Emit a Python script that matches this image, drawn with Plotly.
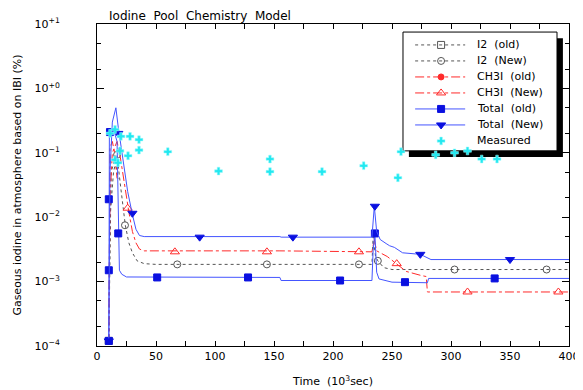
import plotly.graph_objects as go

# ---------------- data ----------------
# I2 (old)
i2o_t = [10, 12, 15, 18]
i2o_y = [1.1e-4, 0.05, 0.08, 0.04]
i2o_mt = [10]
i2o_my = [1.2e-4]

# I2 (New)
i2n_t = [10, 11, 14, 17, 20, 24, 27, 30, 34, 40, 50, 233, 234, 236, 238, 243, 250, 400]
i2n_y = [1.1e-4, 0.01, 0.05, 0.09, 0.03, 0.0075, 0.004, 0.0028, 0.0021, 0.0019, 0.00185,
         0.00185, 0.005, 0.0025, 0.0021, 0.00165, 0.00154, 0.00154]
i2n_mt = [17, 23.7, 68, 144, 222, 238, 303, 381]
i2n_my = [0.093, 0.0075, 0.00185, 0.00185, 0.00185, 0.0021, 0.00154, 0.00154]

# CH3I (old)
ch3o_t = [10, 11, 13, 15, 17]
ch3o_y = [1.1e-4, 0.12, 0.15, 0.1, 0.04]
ch3o_mt = [10]
ch3o_my = [1.2e-4]

# CH3I (New)
ch3n_t = [10, 11, 13, 17, 20, 24, 27, 30, 33, 36, 40, 155, 233, 235, 237, 246, 254, 262, 275, 279, 280, 400]
ch3n_y = [1.1e-4, 0.02, 0.1, 0.15, 0.08, 0.025, 0.012, 0.006, 0.004, 0.0032, 0.0030, 0.0030,
          0.0029, 0.0045, 0.003, 0.00245, 0.0019, 0.00144, 0.00124, 0.0012, 0.00069, 0.00069]
ch3n_mt = [26, 66, 144, 222, 254, 314, 391]
ch3n_my = [0.0138, 0.0029, 0.0029, 0.0029, 0.0019, 0.00069, 0.00069]

# Total (old)
toto_t = [10, 10.5, 12, 15, 17, 18, 19, 21, 25, 155, 156, 233, 234, 235.5, 237, 239, 250, 280, 281, 400]
toto_y = [1.1e-4, 0.2, 0.22, 0.2, 0.15, 0.02, 0.0015, 0.0013, 0.00118, 0.00116, 0.00104,
          0.00104, 0.003, 0.0056, 0.0014, 0.0011, 0.00098, 0.00096, 0.00112, 0.00112]
toto_mt = [10, 10, 10, 11, 18, 51, 128, 206, 235.5, 261, 337]
toto_my = [1.2e-4, 0.0015, 0.019, 0.21, 0.0056, 0.00116, 0.00116, 0.00104, 0.0056, 0.00098, 0.00112]

# Total (New)
totn_t = [10, 11, 13, 16, 18, 22, 26, 30, 33, 36, 40, 155, 156, 233, 235, 237, 240, 245,
          248, 252, 259, 274, 282, 283, 400]
totn_y = [1.1e-4, 0.05, 0.3, 0.5, 0.25, 0.08, 0.025, 0.011, 0.0065, 0.0052, 0.0050, 0.0050,
          0.0049, 0.0049, 0.0148, 0.006, 0.0045, 0.0039, 0.0036, 0.0034, 0.0028, 0.00265,
          0.0022, 0.0022, 0.0022]
totn_mt = [10, 18, 30, 87, 166, 235.5, 274, 350]
totn_my = [1.2e-4, 0.2, 0.0115, 0.0049, 0.0049, 0.0148, 0.00265, 0.0022]

# Measured
meas_t = [11, 15.3, 20.3, 28, 35.6, 35.6, 26.3, 19.5, 15.3, 17.8, 60, 103, 146.6, 146.6,
          190.7, 226, 255, 257.6, 287, 303, 314, 326, 339]
meas_y = [0.20, 0.23, 0.18, 0.18, 0.16, 0.11, 0.09, 0.107, 0.078, 0.07, 0.104, 0.052, 0.08,
          0.051, 0.051, 0.063, 0.041, 0.104, 0.093, 0.10, 0.107, 0.08, 0.08]

series_names = ["I2  (old)", "I2  (New)", "CH3I  (old)", "CH3I  (New)",
                "Total  (old)", "Total  (New)"]
measured_name = "Measured"

y_ticks = [1e-4, 1e-3, 1e-2, 1e-1, 1, 10]
y_ticktext = ["10<sup>−4</sup>", "10<sup>−3</sup>", "10<sup>−2</sup>", "10<sup>−1</sup>",
              "10<sup>+0</sup>", "10<sup>+1</sup>"]

FONT = "DejaVu Sans"
BLUE_LINE = "#4455FF"
BLUE_MK = "#0A10E0"
RED = "#FF2A2A"
GREY = "#555555"
CYAN = "#22E8F0"

styles = [
    (GREY, "dot", "square-open", GREY, 7),
    (GREY, "dot", "circle-open", GREY, 7),
    (RED, "dashdot", "circle", RED, 6),
    (RED, "dashdot", "triangle-up-open", RED, 8),
    (BLUE_LINE, "solid", "square", BLUE_MK, 7),
    (BLUE_LINE, "solid", "triangle-down", BLUE_MK, 8),
]
data = [
    (i2o_t, i2o_y, i2o_mt, i2o_my),
    (i2n_t, i2n_y, i2n_mt, i2n_my),
    (ch3o_t, ch3o_y, ch3o_mt, ch3o_my),
    (ch3n_t, ch3n_y, ch3n_mt, ch3n_my),
    (toto_t, toto_y, toto_mt, toto_my),
    (totn_t, totn_y, totn_mt, totn_my),
]

fig = go.Figure()
for (t, y, mt, my), (lc, dash, sym, mc, ms), name in zip(data, styles, series_names):
    fig.add_trace(go.Scatter(x=t, y=y, mode="lines", name=name, showlegend=False,
                             line=dict(color=lc, width=1, dash=dash)))
    fig.add_trace(go.Scatter(x=mt, y=my, mode="markers", name=name, showlegend=False,
                             marker=dict(symbol=sym, color=mc, size=ms,
                                         line=dict(color=mc, width=1))))

fig.add_trace(go.Scatter(x=meas_t, y=meas_y, mode="markers", name=measured_name,
                         showlegend=False,
                         marker=dict(symbol="cross", color=CYAN, size=6.5,
                                     line=dict(color="#9FFAFC", width=0.5))))

# ---- hand-drawn legend (IDL style box with drop shadow) ----
# layout in paper fractions of the plot area
leg_x0, leg_x1, leg_top, leg_bot = 0.6483, 0.9746, 0.975, 0.606
sh_dx, sh_dy = 0.0125, 0.019
row_top, row_step = 0.935, 0.0497
line_x0, line_x1, mark_x, text_x = 0.674, 0.780, 0.729, 0.801

shapes = [
    dict(type="rect", xref="paper", yref="paper", layer="below",
         x0=leg_x0 + sh_dx, x1=leg_x1 + sh_dx, y0=leg_bot - sh_dy, y1=leg_top - sh_dy,
         fillcolor="black", line=dict(width=0)),
    dict(type="rect", xref="paper", yref="paper", layer="below",
         x0=leg_x0, x1=leg_x1, y0=leg_bot, y1=leg_top,
         fillcolor="white", line=dict(color="black", width=1)),
]
annotations = [dict(text="Iodine  Pool  Chemistry  Model", xref="paper", yref="paper",
                    x=0.021, y=1.024, xanchor="left", yanchor="middle", showarrow=False,
                    font=dict(family=FONT, size=12))]

all_names = series_names + [measured_name]
for i, name in enumerate(all_names):
    ry = row_top - i * row_step
    annotations.append(dict(text=name, xref="paper", yref="paper", x=text_x, y=ry,
                            xanchor="left", yanchor="middle", showarrow=False,
                            font=dict(family=FONT, size=11)))
    if i < len(styles):
        lc, dash, sym, mc, ms = styles[i]
        fig.add_trace(go.Scatter(x=[line_x0, line_x1], y=[ry, ry], mode="lines",
                                 xaxis="x2", yaxis="y2", showlegend=False, hoverinfo="skip",
                                 line=dict(color=lc, width=1, dash=dash)))
        fig.add_trace(go.Scatter(x=[mark_x], y=[ry], mode="markers",
                                 xaxis="x2", yaxis="y2", showlegend=False, hoverinfo="skip",
                                 marker=dict(symbol=sym, color=mc, size=ms,
                                             line=dict(color=mc, width=1))))
    else:
        fig.add_trace(go.Scatter(x=[mark_x], y=[ry], mode="markers",
                                 xaxis="x2", yaxis="y2", showlegend=False, hoverinfo="skip",
                                 marker=dict(symbol="cross", color=CYAN, size=6.5,
                                             line=dict(color="#9FFAFC", width=0.5))))

fig.update_layout(
    width=575, height=382,
    margin=dict(l=89, r=14, t=16, b=44, autoexpand=False),
    paper_bgcolor="white", plot_bgcolor="white",
    font=dict(family=FONT, size=11, color="black"),
    showlegend=False,
    shapes=shapes,
    annotations=annotations,
    xaxis2=dict(overlaying="x", anchor="y2", range=[0, 1], visible=False, fixedrange=True),
    yaxis2=dict(overlaying="y", anchor="x2", range=[0, 1], visible=False, fixedrange=True),
)

fig.update_layout(xaxis=dict(
    range=[0, 400], dtick=50, tick0=0, ticks="inside", ticklen=5,
    tickcolor="black", showline=True, linecolor="black", linewidth=1,
    mirror="ticks", showgrid=False, zeroline=False, automargin=False,
    minor=dict(dtick=25, tick0=0, ticks="inside", ticklen=5, tickcolor="black", showgrid=False),
    title=dict(text="Time  (10<sup>3</sup>sec)", standoff=15, font=dict(size=11)),
    tickfont=dict(size=11)))
fig.update_layout(yaxis=dict(
    type="log", range=[-4, 1], tickvals=y_ticks, ticktext=y_ticktext,
    ticks="inside", ticklen=7, tickcolor="black", showline=True,
    linecolor="black", linewidth=1, mirror="ticks", showgrid=False,
    zeroline=False, automargin=False,
    minor=dict(ticks="inside", ticklen=4, tickcolor="black", showgrid=False),
    title=dict(text="Gaseous iodine in atmosphere based on IBI (%)", standoff=10,
               font=dict(size=11)),
    tickfont=dict(size=11), ticklabelstandoff=34))

fig.write_html("out.html")
